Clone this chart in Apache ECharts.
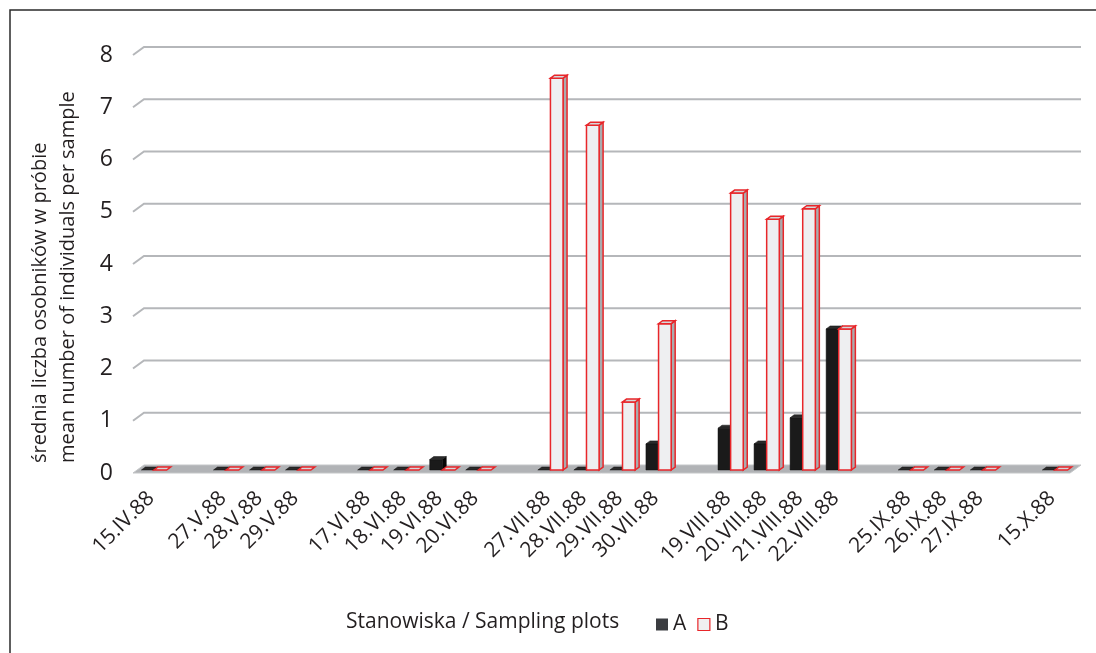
<!DOCTYPE html>
<html><head><meta charset="utf-8">
<script src="https://cdn.jsdelivr.net/npm/echarts@6/dist/echarts.min.js"></script>
<style>html,body{margin:0;padding:0;background:#fff}#c{width:1096px;height:653px}</style>
</head><body><div id="c"></div>
<script>
const categories = ['15.IV.88','', '27.V.88','28.V.88','29.V.88','', '17.VI.88','18.VI.88','19.VI.88','20.VI.88','', '27.VII.88','28.VII.88','29.VII.88','30.VII.88','', '19.VIII.88','20.VIII.88','21.VIII.88','22.VIII.88','', '25.IX.88','26.IX.88','27.IX.88','', '15.X.88'];
const valuesA = [0,null,0,0,0,null,0,0,0.2,0,null,0,0,0,0.5,null,0.8,0.5,1.0,2.7,null,0,0,0,null,0];
const valuesB = [0,null,0,0,0,null,0,0,0,0,null,7.5,6.6,1.3,2.8,null,5.3,4.8,5.0,2.7,null,0,0,0,null,0];
const yTicks = [0,1,2,3,4,5,6,7,8];
const seriesNames = ['A','B'];
const axisTitle1 = 'średnia liczba osobników w próbie';
const axisTitle2 = 'mean number of individuals per sample';
const legendTitle = 'Stanowiska / Sampling plots';

const FONT = '"Open Sans", sans-serif';
const DEPTH = [11, -8];

function toData(arr){
  const out = [];
  arr.forEach((v,i)=>{ if (v !== null) out.push([i, v]); });
  return out;
}

const styles = {
  A: {front:'#1a1a1a', side:'#050505', top:'#2b2b2b', stroke:'#111111', lw:0.5},
  B: {front:'#eeeff1', side:'#a9abae', top:'#d6d7d9', stroke:'#e8262a', lw:1.5}
};

function barRender(kind){
  return function(params, api){
    const i = api.value(0), v = api.value(1);
    const p0 = api.coord([i, 0]);
    const p1 = api.coord([i, v]);
    const band = api.size([1, 0])[0];
    const w = band * 0.35;
    const ox = 3, oy = -3;
    const dx = 4, dy = -3;
    const xl = p0[0] + ox + (kind === 'A' ? -w : 0);
    const xr = xl + w;
    const yb = p0[1] + oy, yt = p1[1] + oy;
    const h = yb - yt;
    const s = styles[kind];
    const children = [];
    if (h > 0.5) {
      children.push({type:'polygon', shape:{points:[[xr,yb],[xr+dx,yb+dy],[xr+dx,yt+dy],[xr,yt]]},
        style:{fill:s.side, stroke:s.stroke, lineWidth:s.lw}});
      children.push({type:'rect', shape:{x:xl, y:yt, width:w, height:h},
        style:{fill:s.front, stroke:s.stroke, lineWidth:s.lw}});
    }
    children.push({type:'polygon', shape:{points:[[xl,yt],[xr,yt],[xr+dx,yt+dy],[xl+dx,yt+dy]]},
      style:{fill:s.top, stroke:s.stroke, lineWidth:s.lw}});
    return {type:'group', children};
  };
}

function floorRender(params, api){
  const cs = params.coordSys;
  const y0 = api.coord([0, 0])[1];
  const x0 = cs.x, x1 = cs.x + cs.width;
  return {type:'polygon', shape:{points:[[x0,y0],[x1,y0],[x1+DEPTH[0],y0+DEPTH[1]],[x0+DEPTH[0],y0+DEPTH[1]]]},
    style:{fill:'#b1b3b6', stroke:'#c4c6c8', lineWidth:1}};
}

function gridRender(params, api){
  const cs = params.coordSys;
  const v = api.value(1);
  const y = api.coord([0, v])[1];
  const x0 = cs.x, x1 = cs.x + cs.width;
  return {type:'polyline', shape:{points:[[x0,y],[x0+DEPTH[0],y+DEPTH[1]],[x1+DEPTH[0],y+DEPTH[1]]]},
    style:{fill:null, stroke:'#b5b7ba', lineWidth:2}};
}

const chart = echarts.init(document.getElementById('c'));
chart.setOption({
  animation:false,
  backgroundColor:'#ffffff',
  grid:{left:133, top:55, width:937, height:418},
  xAxis:{type:'category', data:categories,
    axisLine:{show:false}, axisTick:{show:false}, splitLine:{show:false},
    axisLabel:{interval:0, rotate:45, margin:22, fontSize:21, color:'#231f20', fontFamily:FONT}},
  yAxis:{type:'value', min:0, max:8, interval:1,
    axisLine:{show:false}, axisTick:{show:false}, splitLine:{show:false},
    axisLabel:{margin:20, fontSize:23, color:'#231f20', fontFamily:FONT}},
  legend:{left:651, top:609, itemWidth:12, itemHeight:12, itemGap:11, icon:'rect',
    textStyle:{fontSize:21, color:'#231f20', fontFamily:FONT},
    data:[{name:'A', itemStyle:{color:'#3b3d41'}},
          {name:'B', itemStyle:{color:'#f0f0f0', borderColor:'#e8262a', borderWidth:1.2}}]},
  graphic:[
    {type:'polyline', shape:{points:[[10,653],[10,10],[1096,10]]}, style:{fill:null, stroke:'#2a2a2a', lineWidth:1.5}},
    {type:'text', x:40, y:463, rotation:Math.PI/2, style:{text:axisTitle1, fontSize:20, fontFamily:FONT, fill:'#231f20', textAlign:'left', textVerticalAlign:'middle'}},
    {type:'text', x:68, y:463, rotation:Math.PI/2, style:{text:axisTitle2, fontSize:20, fontFamily:FONT, fill:'#231f20', textAlign:'left', textVerticalAlign:'middle'}},
    {type:'text', x:346, y:622, style:{text:legendTitle, fontSize:21, fontFamily:FONT, fill:'#231f20', textAlign:'left', textVerticalAlign:'middle'}}
  ],
  series:[
    {type:'custom', name:'floor', silent:true, z:1, renderItem:floorRender, data:[[0,0]]},
    {type:'custom', name:'grid', silent:true, z:1, renderItem:gridRender, data:yTicks.filter(v=>v>0).map(v=>[0,v])},
    {type:'custom', name:seriesNames[0], z:3, renderItem:barRender('A'), itemStyle:{color:'#3b3d41'}, data:toData(valuesA)},
    {type:'custom', name:seriesNames[1], z:4, renderItem:barRender('B'), itemStyle:{color:'#f0f0f0', borderColor:'#e8262a'}, data:toData(valuesB)}
  ]
});
</script></body></html>
